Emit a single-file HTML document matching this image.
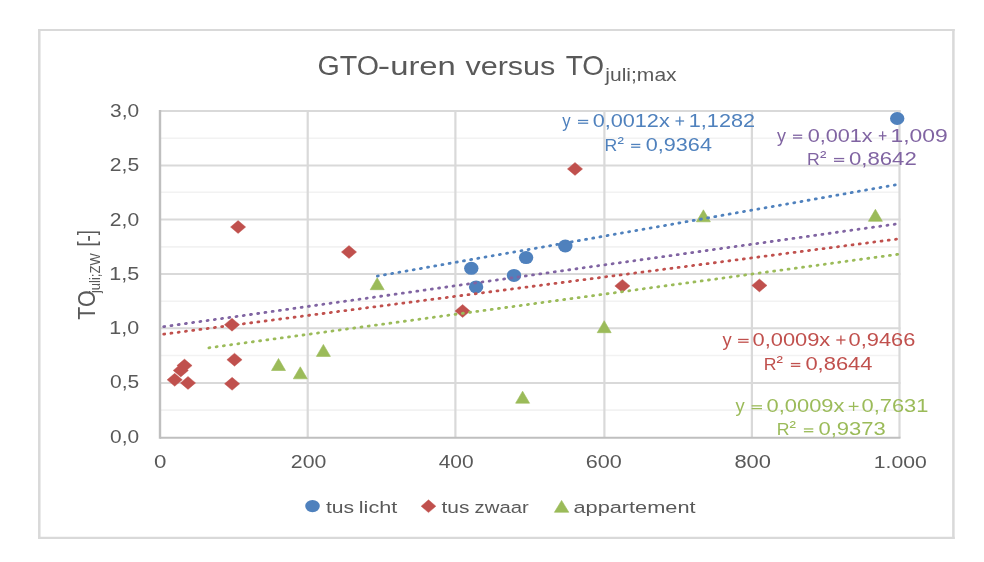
<!DOCTYPE html>
<html><head><meta charset="utf-8"><style>
html,body{margin:0;padding:0;background:#fff;width:984px;height:562px;overflow:hidden}
svg{display:block;filter:blur(0.4px);font-family:"Liberation Sans",sans-serif}
</style></head><body>
<svg width="984" height="562" viewBox="0 0 984 562">
<line x1="38.0" y1="30.0" x2="954.7" y2="30.0" stroke="#D9D9D9" stroke-width="2.1"/>
<line x1="38.0" y1="537.9" x2="954.7" y2="537.9" stroke="#D9D9D9" stroke-width="2.1"/>
<line x1="39.3" y1="29.0" x2="39.3" y2="539.0" stroke="#D9D9D9" stroke-width="2.5"/>
<line x1="953.4" y1="29.0" x2="953.4" y2="539.0" stroke="#D9D9D9" stroke-width="2.5"/>
<line x1="160.0" y1="410.1" x2="899.5" y2="410.1" stroke="#F2F2F2" stroke-width="1.6"/>
<line x1="160.0" y1="355.5" x2="899.5" y2="355.5" stroke="#F2F2F2" stroke-width="1.6"/>
<line x1="160.0" y1="301.2" x2="899.5" y2="301.2" stroke="#F2F2F2" stroke-width="1.6"/>
<line x1="160.0" y1="246.9" x2="899.5" y2="246.9" stroke="#F2F2F2" stroke-width="1.6"/>
<line x1="160.0" y1="192.2" x2="899.5" y2="192.2" stroke="#F2F2F2" stroke-width="1.6"/>
<line x1="160.0" y1="138.2" x2="899.5" y2="138.2" stroke="#F2F2F2" stroke-width="1.6"/>
<line x1="160.0" y1="382.9" x2="900.5" y2="382.9" stroke="#D9D9D9" stroke-width="2"/>
<line x1="160.0" y1="328.2" x2="900.5" y2="328.2" stroke="#D9D9D9" stroke-width="2"/>
<line x1="160.0" y1="274.0" x2="900.5" y2="274.0" stroke="#D9D9D9" stroke-width="2"/>
<line x1="160.0" y1="219.5" x2="900.5" y2="219.5" stroke="#D9D9D9" stroke-width="2"/>
<line x1="160.0" y1="165.5" x2="900.5" y2="165.5" stroke="#D9D9D9" stroke-width="2"/>
<line x1="160.0" y1="111.1" x2="900.5" y2="111.1" stroke="#D9D9D9" stroke-width="2"/>
<line x1="307.7" y1="110.1" x2="307.7" y2="437.7" stroke="#D9D9D9" stroke-width="2.2"/>
<line x1="455.4" y1="110.1" x2="455.4" y2="437.7" stroke="#D9D9D9" stroke-width="2.2"/>
<line x1="604.4" y1="110.1" x2="604.4" y2="437.7" stroke="#D9D9D9" stroke-width="2.2"/>
<line x1="751.9" y1="110.1" x2="751.9" y2="437.7" stroke="#D9D9D9" stroke-width="2.2"/>
<line x1="899.5" y1="110.1" x2="899.5" y2="437.7" stroke="#D9D9D9" stroke-width="2.2"/>
<line x1="160.0" y1="437.7" x2="900.5" y2="437.7" stroke="#BFBFBF" stroke-width="2"/>
<line x1="160.0" y1="110.1" x2="160.0" y2="438.7" stroke="#BFBFBF" stroke-width="2.4"/>
<text transform="translate(110.06 442.80) scale(1.1090 1)" font-size="18.86" fill="#595959">0,0</text>
<text transform="translate(110.06 387.80) scale(1.1304 1)" font-size="18.57" fill="#595959">0,5</text>
<text transform="translate(109.29 334.30) scale(1.1749 1)" font-size="18.29" fill="#595959">1,0</text>
<text transform="translate(109.28 279.60) scale(1.1448 1)" font-size="18.84" fill="#595959">1,5</text>
<text transform="translate(109.85 225.50) scale(1.1347 1)" font-size="18.57" fill="#595959">2,0</text>
<text transform="translate(109.84 170.60) scale(1.1391 1)" font-size="18.57" fill="#595959">2,5</text>
<text transform="translate(110.06 117.40) scale(1.1048 1)" font-size="18.93" fill="#595959">3,0</text>
<text transform="translate(153.96 468.45) scale(1.2790 1)" font-size="17.43" fill="#595959">0</text>
<text transform="translate(290.84 468.45) scale(1.2202 1)" font-size="17.43" fill="#595959">200</text>
<text transform="translate(438.73 468.45) scale(1.2010 1)" font-size="17.43" fill="#595959">400</text>
<text transform="translate(585.87 468.45) scale(1.2383 1)" font-size="17.43" fill="#595959">600</text>
<text transform="translate(734.46 468.45) scale(1.2561 1)" font-size="17.43" fill="#595959">800</text>
<text transform="translate(873.81 468.45) scale(1.2148 1)" font-size="17.43" fill="#595959">1.000</text>
<ellipse cx="471.3" cy="268.3" rx="7.2" ry="6.5" fill="#4F81BD"/>
<ellipse cx="476.1" cy="286.9" rx="7.2" ry="6.5" fill="#4F81BD"/>
<ellipse cx="514" cy="275.4" rx="7.2" ry="6.5" fill="#4F81BD"/>
<ellipse cx="526.1" cy="257.6" rx="7.2" ry="6.5" fill="#4F81BD"/>
<ellipse cx="565.3" cy="246" rx="7.2" ry="6.5" fill="#4F81BD"/>
<ellipse cx="897.2" cy="118.5" rx="7.2" ry="6.5" fill="#4F81BD"/>
<path d="M230.50 227L238.1 220.50L245.70 227L238.1 233.50Z" fill="#C0504D" stroke="#C0504D" stroke-width="0.4" stroke-linejoin="round"/>
<path d="M341.40 252L349 245.50L356.60 252L349 258.50Z" fill="#C0504D" stroke="#C0504D" stroke-width="0.4" stroke-linejoin="round"/>
<path d="M224.40 324.7L232 318.20L239.60 324.7L232 331.20Z" fill="#C0504D" stroke="#C0504D" stroke-width="0.4" stroke-linejoin="round"/>
<path d="M226.90 359.7L234.5 353.20L242.10 359.7L234.5 366.20Z" fill="#C0504D" stroke="#C0504D" stroke-width="0.4" stroke-linejoin="round"/>
<path d="M224.50 383.8L232.1 377.30L239.70 383.8L232.1 390.30Z" fill="#C0504D" stroke="#C0504D" stroke-width="0.4" stroke-linejoin="round"/>
<path d="M180.40 382.9L188 376.40L195.60 382.9L188 389.40Z" fill="#C0504D" stroke="#C0504D" stroke-width="0.4" stroke-linejoin="round"/>
<path d="M167.10 379.8L174.7 373.30L182.30 379.8L174.7 386.30Z" fill="#C0504D" stroke="#C0504D" stroke-width="0.4" stroke-linejoin="round"/>
<path d="M173.20 370.4L180.8 363.90L188.40 370.4L180.8 376.90Z" fill="#C0504D" stroke="#C0504D" stroke-width="0.4" stroke-linejoin="round"/>
<path d="M176.90 365.6L184.5 359.10L192.10 365.6L184.5 372.10Z" fill="#C0504D" stroke="#C0504D" stroke-width="0.4" stroke-linejoin="round"/>
<path d="M455.00 311L462.6 304.50L470.20 311L462.6 317.50Z" fill="#C0504D" stroke="#C0504D" stroke-width="0.4" stroke-linejoin="round"/>
<path d="M567.40 168.9L575 162.40L582.60 168.9L575 175.40Z" fill="#C0504D" stroke="#C0504D" stroke-width="0.4" stroke-linejoin="round"/>
<path d="M614.80 285.9L622.4 279.40L630.00 285.9L622.4 292.40Z" fill="#C0504D" stroke="#C0504D" stroke-width="0.4" stroke-linejoin="round"/>
<path d="M751.80 285.4L759.4 278.90L767.00 285.4L759.4 291.90Z" fill="#C0504D" stroke="#C0504D" stroke-width="0.4" stroke-linejoin="round"/>
<path d="M370.20 289.70L377.2 277.70L384.20 289.70Z" fill="#9BBB59" stroke="#9BBB59" stroke-width="0.6" stroke-linejoin="round"/>
<path d="M316.40 356.40L323.4 344.40L330.40 356.40Z" fill="#9BBB59" stroke="#9BBB59" stroke-width="0.6" stroke-linejoin="round"/>
<path d="M271.50 370.50L278.5 358.50L285.50 370.50Z" fill="#9BBB59" stroke="#9BBB59" stroke-width="0.6" stroke-linejoin="round"/>
<path d="M293.30 378.80L300.3 366.80L307.30 378.80Z" fill="#9BBB59" stroke="#9BBB59" stroke-width="0.6" stroke-linejoin="round"/>
<path d="M515.60 403.20L522.6 391.20L529.60 403.20Z" fill="#9BBB59" stroke="#9BBB59" stroke-width="0.6" stroke-linejoin="round"/>
<path d="M597.20 332.70L604.2 320.70L611.20 332.70Z" fill="#9BBB59" stroke="#9BBB59" stroke-width="0.6" stroke-linejoin="round"/>
<path d="M696.40 221.80L703.4 209.80L710.40 221.80Z" fill="#9BBB59" stroke="#9BBB59" stroke-width="0.6" stroke-linejoin="round"/>
<path d="M868.40 221.30L875.4 209.30L882.40 221.30Z" fill="#9BBB59" stroke="#9BBB59" stroke-width="0.6" stroke-linejoin="round"/>
<line x1="377.31" y1="276.09" x2="895.29" y2="184.91" stroke="#4F81BD" stroke-width="2.8" stroke-linecap="round" stroke-dasharray="1.0 6.2909"/>
<line x1="163.70" y1="326.67" x2="895.20" y2="224.13" stroke="#8064A2" stroke-width="2.8" stroke-linecap="round" stroke-dasharray="1.0 6.3034"/>
<line x1="163.70" y1="334.16" x2="896.50" y2="239.14" stroke="#C0504D" stroke-width="2.8" stroke-linecap="round" stroke-dasharray="1.0 6.3062"/>
<line x1="208.90" y1="347.77" x2="897.70" y2="254.33" stroke="#9BBB59" stroke-width="2.8" stroke-linecap="round" stroke-dasharray="1.0 6.3063"/>
<text transform="translate(317.47 74.80) scale(1.0527 1)" font-size="27.20" fill="#595959">GTO</text>
<text transform="translate(377.63 74.80) scale(1.3655 1)" font-size="27.20" fill="#595959">-</text>
<text transform="translate(565.64 74.80) scale(1.0311 1)" font-size="27.20" fill="#595959">TO</text>
<text transform="translate(390.17 74.80) scale(1.3134 1)" font-size="25.00" fill="#595959">uren</text>
<text transform="translate(465.45 74.80) scale(1.2213 1)" font-size="25.00" fill="#595959">versus</text>
<text transform="translate(605.33 81.30) scale(1.1128 1)" font-size="18.90" fill="#595959">juli;max</text>
<text transform="translate(562.22 126.80) scale(0.9367 1)" font-size="17.90" fill="#4F81BD">y</text>
<rect x="578.00" y="119.80" width="10.20" height="1.3" fill="#4F81BD"/>
<rect x="578.00" y="122.55" width="10.20" height="1.3" fill="#4F81BD"/>
<text transform="translate(592.63 126.80) scale(1.2112 1)" font-size="17.90" fill="#4F81BD">0,0012x</text>
<rect x="675.50" y="120.35" width="8.60" height="1.3" fill="#4F81BD"/>
<rect x="679.15" y="116.50" width="1.3" height="9.0" fill="#4F81BD"/>
<text transform="translate(688.77 126.80) scale(1.2106 1)" font-size="17.90" fill="#4F81BD">1,1282</text>
<text transform="translate(604.59 150.80) scale(1.0232 1)" font-size="17.25" fill="#4F81BD">R</text>
<text transform="translate(617.51 147.89) scale(1.2112 1)" font-size="15.95" fill="#4F81BD">²</text>
<rect x="631.10" y="143.80" width="9.20" height="1.3" fill="#4F81BD"/>
<rect x="631.10" y="146.55" width="9.20" height="1.3" fill="#4F81BD"/>
<text transform="translate(645.84 150.80) scale(1.2070 1)" font-size="17.90" fill="#4F81BD">0,9364</text>
<text transform="translate(777.01 141.60) scale(1.0045 1)" font-size="17.90" fill="#8064A2">y</text>
<rect x="793.00" y="134.60" width="9.20" height="1.3" fill="#8064A2"/>
<rect x="793.00" y="137.35" width="9.20" height="1.3" fill="#8064A2"/>
<text transform="translate(807.63 141.60) scale(1.2100 1)" font-size="17.90" fill="#8064A2">0,001x</text>
<rect x="878.80" y="135.15" width="7.70" height="1.3" fill="#8064A2"/>
<rect x="882.00" y="131.30" width="1.3" height="9.0" fill="#8064A2"/>
<text transform="translate(890.48 141.60) scale(1.2793 1)" font-size="17.90" fill="#8064A2">1,009</text>
<text transform="translate(807.09 164.90) scale(1.0232 1)" font-size="17.25" fill="#8064A2">R</text>
<text transform="translate(820.01 161.99) scale(1.2112 1)" font-size="15.95" fill="#8064A2">²</text>
<rect x="834.00" y="157.90" width="10.20" height="1.3" fill="#8064A2"/>
<rect x="834.00" y="160.65" width="10.20" height="1.3" fill="#8064A2"/>
<text transform="translate(849.01 164.90) scale(1.2377 1)" font-size="17.90" fill="#8064A2">0,8642</text>
<text transform="translate(722.41 345.80) scale(1.0270 1)" font-size="17.90" fill="#C0504D">y</text>
<rect x="738.10" y="338.80" width="10.50" height="1.3" fill="#C0504D"/>
<rect x="738.10" y="341.55" width="10.50" height="1.3" fill="#C0504D"/>
<text transform="translate(752.52 345.80) scale(1.2224 1)" font-size="17.90" fill="#C0504D">0,0009x</text>
<rect x="836.30" y="339.35" width="9.20" height="1.3" fill="#C0504D"/>
<rect x="840.25" y="335.50" width="1.3" height="9.0" fill="#C0504D"/>
<text transform="translate(848.53 345.80) scale(1.2204 1)" font-size="17.90" fill="#C0504D">0,9466</text>
<text transform="translate(763.69 369.90) scale(1.0232 1)" font-size="17.25" fill="#C0504D">R</text>
<text transform="translate(776.61 366.99) scale(1.2112 1)" font-size="15.95" fill="#C0504D">²</text>
<rect x="790.90" y="362.90" width="9.40" height="1.3" fill="#C0504D"/>
<rect x="790.90" y="365.65" width="9.40" height="1.3" fill="#C0504D"/>
<text transform="translate(805.42 369.90) scale(1.2257 1)" font-size="17.90" fill="#C0504D">0,8644</text>
<text transform="translate(735.41 412.20) scale(1.0270 1)" font-size="17.90" fill="#9BBB59">y</text>
<rect x="751.60" y="405.20" width="10.40" height="1.3" fill="#9BBB59"/>
<rect x="751.60" y="407.95" width="10.40" height="1.3" fill="#9BBB59"/>
<text transform="translate(766.62 412.20) scale(1.2224 1)" font-size="17.90" fill="#9BBB59">0,0009x</text>
<rect x="848.70" y="405.75" width="9.80" height="1.3" fill="#9BBB59"/>
<rect x="852.95" y="401.90" width="1.3" height="9.0" fill="#9BBB59"/>
<text transform="translate(861.52 412.20) scale(1.2225 1)" font-size="17.90" fill="#9BBB59">0,7631</text>
<text transform="translate(776.69 435.30) scale(1.0232 1)" font-size="17.25" fill="#9BBB59">R</text>
<text transform="translate(789.61 432.39) scale(1.2112 1)" font-size="15.95" fill="#9BBB59">²</text>
<rect x="803.90" y="428.30" width="9.40" height="1.3" fill="#9BBB59"/>
<rect x="803.90" y="431.05" width="9.40" height="1.3" fill="#9BBB59"/>
<text transform="translate(818.42 435.30) scale(1.2298 1)" font-size="17.90" fill="#9BBB59">0,9373</text>
<g transform="rotate(-90)">
<text transform="translate(-319.83 95.20) scale(0.9329 1)" font-size="23.00" fill="#595959">TO</text>
<text transform="translate(-293.07 99.90) scale(0.8674 1)" font-size="15.03" fill="#595959">juli;ZW</text>
<text transform="translate(-246.61 95.20) scale(0.7864 1)" font-size="23.72" fill="#595959">[-]</text>
</g>
<ellipse cx="312.5" cy="506.1" rx="7.3" ry="6.2" fill="#4F81BD"/>
<path d="M421.10 506.2L428.5 499.80L435.90 506.2L428.5 512.60Z" fill="#C0504D" stroke="#C0504D" stroke-width="0.4" stroke-linejoin="round"/>
<path d="M554.4 512.3L561.6 500.4L568.8 512.3Z" fill="#9BBB59" stroke="#9BBB59" stroke-width="0.6" stroke-linejoin="round"/>
<text transform="translate(325.98 512.50) scale(1.2307 1)" font-size="17.20" fill="#595959">tus</text>
<text transform="translate(358.79 512.50) scale(1.2583 1)" font-size="17.20" fill="#595959">licht</text>
<text transform="translate(441.49 512.50) scale(1.2171 1)" font-size="17.20" fill="#595959">tus</text>
<text transform="translate(474.59 512.50) scale(1.1806 1)" font-size="17.20" fill="#595959">zwaar</text>
<text transform="translate(573.43 512.50) scale(1.2652 1)" font-size="17.20" fill="#595959">appartement</text>
</svg>
</body></html>
